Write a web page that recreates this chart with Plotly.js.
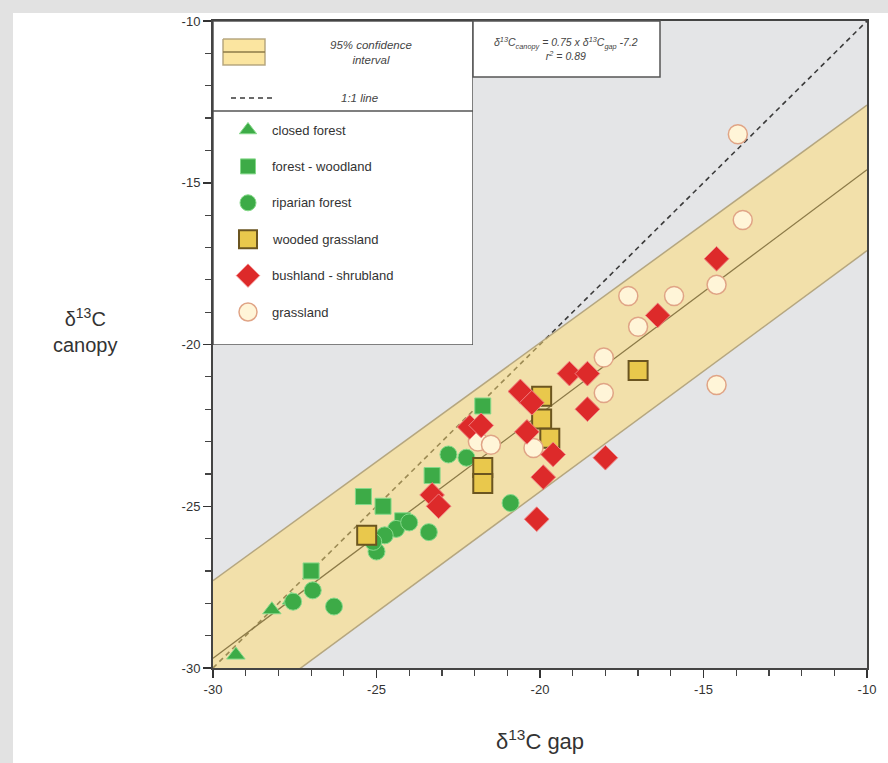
<!DOCTYPE html>
<html><head><meta charset="utf-8">
<script src="https://cdn.plot.ly/plotly-3.0.1.min.js"></script>
<style>html,body{margin:0;padding:0;background:#fff}#chart{width:888px;height:763px}</style>
</head><body><div id="chart"></div>
<script>
// ---- data ----
const categories = ['closed forest','forest - woodland','riparian forest','wooded grassland','bushland - shrubland','grassland'];

const closedForestX = [-29.3, -28.2, -27.6];
const closedForestY = [-29.6, -28.2, -27.9];

const forestWoodlandX = [-25.4, -24.8, -27.0, -23.3, -21.75, -24.2];
const forestWoodlandY = [-24.7, -25.0, -27.0, -24.05, -21.9, -25.45];

const riparianX = [-27.55, -26.95, -26.3, -25.0, -24.4, -24.0, -23.4, -22.8, -22.25, -20.9, -24.75, -25.1];
const riparianY = [-27.95, -27.6, -28.1, -26.4, -25.7, -25.5, -25.8, -23.4, -23.5, -24.9, -25.9, -26.1];

const woodedGrassX = [-25.3, -21.75, -21.75, -19.95, -19.95, -19.7, -17.0];
const woodedGrassY = [-25.9, -23.8, -24.3, -21.6, -22.3, -22.9, -20.8];

const bushlandX = [-22.15, -21.8, -23.3, -23.1, -20.6, -20.25, -20.4, -19.6, -19.9, -20.1, -19.1, -18.55, -18.55, -18.0, -16.4, -14.6];
const bushlandY = [-22.55, -22.5, -24.65, -25.0, -21.45, -21.8, -22.7, -23.4, -24.1, -25.4, -20.9, -20.9, -22.0, -23.5, -19.1, -17.35];

const grasslandX = [-13.95, -13.8, -17.3, -15.9, -17.0, -14.6, -18.05, -18.05, -14.6, -21.9, -21.5, -20.2];
const grasslandY = [-13.5, -16.15, -18.5, -18.5, -19.45, -18.15, -20.4, -21.5, -21.25, -23.0, -23.1, -23.2];

const oneToOneX = [-30, -10];
const oneToOneY = [-30, -10];
const regX = [-30, -10];
const regY = [-29.7, -14.6];
const bandX = [-30, -10];
const bandUpper = [-27.3, -12.6];
const bandLower = [-32.0, -17.1];

const tickVals = [-30, -25, -20, -15, -10];
const tickLabels = ['-30', '-25', '-20', '-15', '-10'];

// ---- styles ----
const FONT = 'Liberation Sans, Arial, sans-serif';
const green = '#3dab47', greenLine = '#86d98a';
const styles = [
  {symbol:'triangle-up', size:16, color:green, line:{color:greenLine, width:1}},
  {symbol:'square', size:16, color:green, line:{color:greenLine, width:1}},
  {symbol:'circle', size:17, color:green, line:{color:greenLine, width:1}},
  {symbol:'square', size:19, color:'#e9c84c', line:{color:'#6b5520', width:2}},
  {symbol:'diamond', size:19, color:'#dd2a2a', line:{color:'#f08080', width:1}},
  {symbol:'circle', size:19, color:'#fff5d8', line:{color:'#e0a486', width:1.5}}
];
const seriesX = [closedForestX, forestWoodlandX, riparianX, woodedGrassX, grasslandX, bushlandX];
const seriesY = [closedForestY, forestWoodlandY, riparianY, woodedGrassY, grasslandY, bushlandY];
const seriesStyle = [0,1,2,3,5,4];

const traces = [];
traces.push({x:oneToOneX, y:oneToOneY, mode:'lines', line:{color:'#3a3a3a', width:1.6, dash:'5px,4px'}, hoverinfo:'skip', showlegend:false});
traces.push({x:bandX, y:bandLower, mode:'lines', line:{color:'rgba(175,160,120,0.9)', width:1.5}, hoverinfo:'skip', showlegend:false});
traces.push({x:bandX, y:bandUpper, mode:'lines', fill:'tonexty', fillcolor:'rgba(255,220,110,0.5)', line:{color:'rgba(175,160,120,0.9)', width:1.5}, hoverinfo:'skip', showlegend:false});
traces.push({x:regX, y:regY, mode:'lines', line:{color:'#8c7a48', width:1.3}, hoverinfo:'skip', showlegend:false});
seriesX.forEach((sx, i) => {
  const st = styles[seriesStyle[i]];
  traces.push({x:sx, y:seriesY[i], mode:'markers', name:categories[seriesStyle[i]], showlegend:false,
    marker:{symbol:st.symbol, size:st.size, color:st.color, line:st.line}});
});

// legend keys on an auxiliary (hidden) axis pair, box-pixel units
const legTop = 109, legStep = 36.4;
categories.forEach((c, i) => {
  const st = styles[i];
  traces.push({x:[35], y:[legTop + legStep*i], xaxis:'x2', yaxis:'y2', mode:'markers', showlegend:false, hoverinfo:'skip',
    marker:{symbol:st.symbol, size:st.size-1, color:st.color, line:st.line}});
});
// band key
traces.push({x:[10,52,52,10,10], y:[18,18,44,44,18], xaxis:'x2', yaxis:'y2', mode:'lines', fill:'toself',
  fillcolor:'rgba(250,218,120,0.7)', line:{color:'rgba(175,160,120,0.9)', width:1.5}, hoverinfo:'skip', showlegend:false});
traces.push({x:[10,52], y:[31,31], xaxis:'x2', yaxis:'y2', mode:'lines', line:{color:'#8c7a48', width:1.3}, hoverinfo:'skip', showlegend:false});
traces.push({x:[18,60], y:[77,77], xaxis:'x2', yaxis:'y2', mode:'lines', line:{color:'#3a3a3a', width:1.6, dash:'5px,4px'}, hoverinfo:'skip', showlegend:false});

const annotations = [];
categories.forEach((c, i) => {
  annotations.push({xref:'x2', yref:'y2', x:57, y:legTop + legStep*i, text:c, showarrow:false, xanchor:'left', yanchor:'middle',
    font:{family:FONT, size:13, color:'#333'}});
});
annotations.push({xref:'x2', yref:'y2', x:158, y:31, text:'<i>95% confidence<br>interval</i>', showarrow:false, xanchor:'center', yanchor:'middle', align:'center',
  font:{family:FONT, size:11.5, color:'#444'}});
annotations.push({xref:'x2', yref:'y2', x:146, y:77, text:'<i>1:1 line</i>', showarrow:false, xanchor:'center', yanchor:'middle',
  font:{family:FONT, size:11.5, color:'#444'}});
annotations.push({xref:'paper', yref:'paper', x:(566-213)/654, y:(668-48)/647, text:'<i>δ<sup>13</sup>C<sub>canopy</sub> = 0.75 x δ<sup>13</sup>C<sub>gap</sub> -7.2<br>r<sup>2</sup> = 0.89</i>',
  showarrow:false, xanchor:'center', yanchor:'middle', align:'center', font:{family:FONT, size:10.5, color:'#444'}});
annotations.push({xref:'paper', yref:'paper', x:(85-213)/654, y:(668-330)/647, text:'δ<sup>13</sup>C<br>canopy', showarrow:false,
  xanchor:'center', yanchor:'middle', align:'center', font:{family:FONT, size:20, color:'#333'}});
annotations.push({xref:'paper', yref:'paper', x:(540-213)/654, y:(668-740)/647, text:'δ<sup>13</sup>C gap', showarrow:false,
  xanchor:'center', yanchor:'middle', font:{family:FONT, size:22, color:'#333'}});

const shapes = [
  // light grey frame strips (left and top) in the margins
  {type:'rect', xref:'paper', yref:'paper', x0:(0-213)/654, x1:(13-213)/654, y0:(668-763)/647, y1:(668-0)/647,
    fillcolor:'#e2e2e2', line:{width:0}, layer:'below'},
  {type:'rect', xref:'paper', yref:'paper', x0:(0-213)/654, x1:(888-213)/654, y0:(668-13)/647, y1:(668-0)/647,
    fillcolor:'#e2e2e2', line:{width:0}, layer:'below'},
  {type:'rect', xref:'x2', yref:'y2', x0:0, x1:260, y0:0, y1:324, fillcolor:'#ffffff', line:{color:'#555', width:1.5}, layer:'below'},
  {type:'line', xref:'x2', yref:'y2', x0:0, x1:260, y0:90, y1:90, line:{color:'#555', width:1.5}, layer:'below'},
  {type:'rect', xref:'paper', yref:'paper', x0:(473-213)/654, x1:(660-213)/654, y0:(668-77)/647, y1:1,
    fillcolor:'#ffffff', line:{color:'#555', width:1.5}, layer:'above'}
];

const axisCommon = {
  tickvals:tickVals, ticktext:tickLabels, ticks:'outside', ticklen:8, tickwidth:1.5, tickcolor:'#333',
  showline:true, linecolor:'#444', linewidth:2, mirror:true, showgrid:false, zeroline:false,
  tickfont:{family:FONT, size:13, color:'#333'},
  minor:{dtick:1, ticks:'outside', ticklen:6, tickwidth:1.2, tickcolor:'#444', showgrid:false},
  range:[-30, -10], fixedrange:true
};

const layout = {
  width:888, height:763,
  margin:{l:213, r:21, t:21, b:95},
  paper_bgcolor:'#ffffff', plot_bgcolor:'#e4e5e7',
  showlegend:false,
  xaxis:Object.assign({}, axisCommon, {domain:[0,1], anchor:'y'}),
  yaxis:Object.assign({}, axisCommon, {domain:[0,1], anchor:'x'}),
  xaxis2:{domain:[0, 260/654], range:[0,260], visible:false, anchor:'y2', fixedrange:true},
  yaxis2:{domain:[1-324/647, 1], range:[324,0], visible:false, anchor:'x2', fixedrange:true},
  annotations:annotations, shapes:shapes
};

Plotly.newPlot('chart', traces, layout, {displayModeBar:false, staticPlot:true});
</script></body></html>
